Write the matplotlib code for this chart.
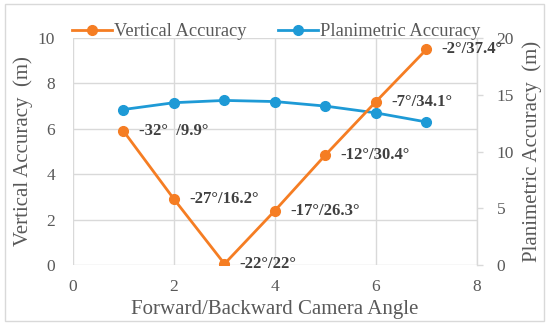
import matplotlib
matplotlib.use("Agg")
import matplotlib.pyplot as plt
from matplotlib.lines import Line2D
from matplotlib.patches import Rectangle

angles = [1, 2, 3, 4, 5, 6, 7]
vertical = [5.9, 2.9, 0.05, 2.4, 4.85, 7.2, 9.5]
planimetric = [13.7, 14.3, 14.5, 14.4, 14.0, 13.4, 12.6]
labels = ["-32°  /9.9°", "-27°/16.2°", "-22°/22°", "-17°/26.3°",
          "-12°/30.4°", "-7°/34.1°", "-2°/37.4°"]

ORANGE = "#F57D23"
BLUE = "#1E9AD6"
GRAY = "#595959"
GRID = "#D9D9D9"

plt.rcParams['font.family'] = ['Liberation Serif', 'DejaVu Serif']

fig = plt.figure(figsize=(5.5, 3.28), dpi=100)
fig.patches.append(Rectangle((5/550, 1-321/328), 539/550, 317/328,
                             transform=fig.transFigure, fill=False,
                             edgecolor=GRID, linewidth=1))
ax = fig.add_axes([73/550, 1-265/328, 404/550, 227/328])
ax2 = ax.twinx()

ax.set_xlim(0, 8)
ax.set_ylim(0, 10)
ax2.set_ylim(0, 20)
ax.set_xticks([0, 2, 4, 6, 8])
ax.set_yticks([0, 2, 4, 6, 8, 10])
ax2.set_yticks([0, 5, 10, 15, 20])

ax.grid(True, color=GRID, linewidth=1)
ax.set_axisbelow(True)
for a in (ax, ax2):
    for s in a.spines.values():
        s.set_visible(False)
ax2.spines['right'].set_visible(True)
ax2.spines['right'].set_color(GRID)
ax2.spines['right'].set_linewidth(1)

ax.tick_params(axis='both', length=0, labelsize=12.5, colors=GRAY)
ax.tick_params(axis='y', pad=13)
ax.tick_params(axis='x', pad=10)
ax2.tick_params(axis='y', length=4, width=1, color=GRID, labelsize=12.5,
                labelcolor=GRAY, pad=10)

ax.set_xlabel("Forward/Backward Camera Angle", fontsize=15, color=GRAY, labelpad=4)
ax.set_ylabel("Vertical Accuracy  (m)", fontsize=15, color=GRAY, labelpad=3)
ax2.set_ylabel("Planimetric Accuracy  (m)", fontsize=15, color=GRAY, labelpad=6)

ax2.plot(angles, planimetric, color=BLUE, lw=2, marker='o', ms=7, zorder=3)
ax2.plot(angles, [v * 2 for v in vertical], color=ORANGE, lw=2, marker='o', ms=7, zorder=4)

for x, y, t in zip(angles, vertical, labels):
    ax2.annotate(t, (x, y * 2), xytext=(11, 0), textcoords='offset points',
                 ha='left', va='center', fontsize=12, fontweight='bold',
                 color="#404040", zorder=5)

h1 = Line2D([], [], color=ORANGE, lw=2, marker='o', ms=7)
h2 = Line2D([], [], color=BLUE, lw=2, marker='o', ms=7)
for h, lab, x0 in ((h1, "Vertical Accuracy", 72), (h2, "Planimetric Accuracy", 278)):
    fig.legend([h], [lab], loc='center left',
               bbox_to_anchor=(x0/550, 1-32/328),
               frameon=False, fontsize=13.3, labelcolor=GRAY,
               handlelength=2.15, handletextpad=0.12,
               borderpad=0, borderaxespad=0)

fig.savefig("out.png", dpi=100)
